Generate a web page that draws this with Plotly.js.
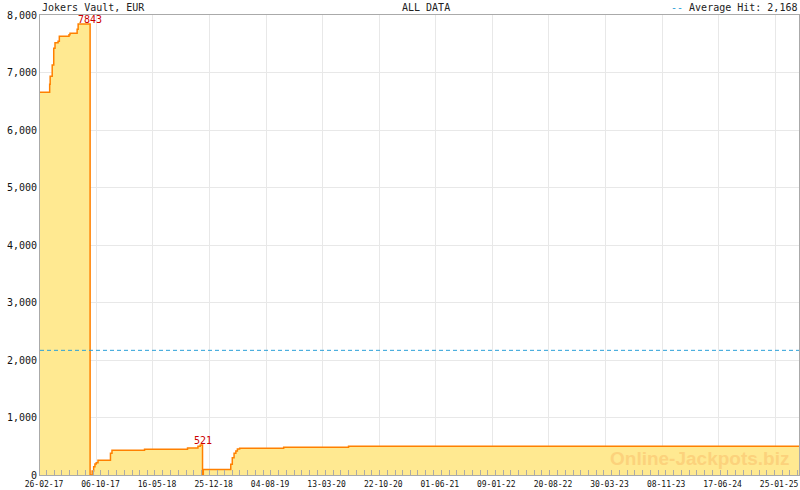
<!DOCTYPE html>
<html>
<head>
<meta charset="utf-8">
<script src="https://cdn.plot.ly/plotly-3.0.1.min.js"></script>
<style>html,body{margin:0;padding:0;background:#fff;}#chart{width:800px;height:490px;}</style>
</head>
<body>
<div id="chart"></div>
<script>
// ---- data ----
const dates = [
  '2017-02-26','2017-04-05','2017-04-07','2017-04-15','2017-04-21','2017-04-26',
  '2017-05-08','2017-05-13','2017-06-20','2017-06-24','2017-07-22','2017-07-26',
  '2017-09-11','2017-09-19','2017-09-25','2017-09-30','2017-10-05','2017-10-12',
  '2017-11-30','2017-12-06','2018-04-13','2018-09-29','2018-11-09','2018-11-18',
  '2018-11-27','2018-11-30','2019-03-18','2019-03-24','2019-03-31','2019-04-07',
  '2019-04-13','2019-04-22','2019-10-12','2020-06-23','2025-04-29'
];
const values = [
  6656,6795,6934,7130,7421,7518,
  7543,7630,7657,7682,7751,7843,
  0,70,144,191,214,256,
  377,430,447,470,499,521,
  0,95,186,301,377,417,
  452,464,482,499,499
];
const peakLabels = [
  {date:'2017-09-11', value:7843, text:'7843'},
  {date:'2018-11-27', value:521, text:'521'}
];
const averageHit = 2168;
const xStart = '2017-02-26';
const xEnd = '2025-04-29';
const tickDates = ['2017-02-26','2017-10-06','2018-05-16','2018-12-25','2019-08-04','2020-03-13',
  '2020-10-22','2021-06-01','2022-01-09','2022-08-20','2023-03-30','2023-11-08','2024-06-17','2025-01-25'];
const tickLabels = ['26-02-17','06-10-17','16-05-18','25-12-18','04-08-19','13-03-20',
  '22-10-20','01-06-21','09-01-22','20-08-22','30-03-23','08-11-23','17-06-24','25-01-25'];
const titleText = 'Jokers Vault, EUR';
const subtitleText = 'ALL DATA';
const watermark = 'Online-Jackpots.biz';

const mono = 'DejaVu Sans Mono, monospace';

const traces = [
  {
    x: dates, y: values, type: 'scatter', mode: 'lines',
    line: {shape: 'hv', color: '#FF8000', width: 1.5},
    fill: 'tozeroy', fillcolor: '#FFE991',
    hoverinfo: 'skip', showlegend: false
  },
  {
    x: [xStart, xEnd], y: [averageHit, averageHit], type: 'scatter', mode: 'lines',
    xaxis: 'x2',
    line: {color: '#2A9FD8', width: 1, dash: '4px,3px'},
    hoverinfo: 'skip', showlegend: false
  }
];

const annotations = [
  {xref:'paper', yref:'paper', x:0, y:1, xanchor:'left', yanchor:'bottom', yshift:0,
   text:titleText, showarrow:false, font:{family:mono, size:10, color:'#222'}},
  {xref:'paper', yref:'paper', x:0.5086, y:1, xanchor:'center', yanchor:'bottom', yshift:0,
   text:subtitleText, showarrow:false, font:{family:mono, size:10, color:'#222'}},
  {xref:'paper', yref:'paper', x:1, y:1, xanchor:'right', yanchor:'bottom', yshift:0,
   text:'<span style="color:#2A9FD8">--</span> Average Hit: ' + averageHit.toLocaleString('en-US'),
   showarrow:false, font:{family:mono, size:10, color:'#222'}},
  {xref:'paper', yref:'paper', x:0.99, y:0.0, xanchor:'right', yanchor:'bottom', yshift:4,
   text:'<b>' + watermark + '</b>', showarrow:false,
   font:{family:'Liberation Sans, Arial, sans-serif', size:19, color:'#FCD27C'}}
];
peakLabels.forEach(p => annotations.push({
  x:p.date, y:p.value, xref:'x', yref:'y', xanchor:'center', yanchor:'bottom', yshift:-3,
  text:p.text, showarrow:false, font:{family:mono, size:10, color:'#CC0000'}
}));

const layout = {
  width: 800, height: 490,
  margin: {l:40, r:1, t:15, b:15, pad:0},
  paper_bgcolor: '#fff', plot_bgcolor: '#fff',
  showlegend: false,
  hovermode: false,
  xaxis: {
    type:'date', range:[xStart, xEnd],
    tickmode:'array', tickvals:tickDates, ticktext:tickLabels,
    ticks:'', showgrid:true, gridcolor:'#E8E8E8', gridwidth:1,
    showline:true, linecolor:'#AAAAAA', linewidth:1, mirror:true,
    zeroline:false, ticklabelshift:4, ticklabelstandoff:1,
    tickfont:{family:mono, size:8, color:'#111'}
  },
  xaxis2: {
    type:'date', range:[xStart, xEnd], overlaying:'x', anchor:'y',
    tickmode:'linear', tick0:'2017-03-23', dtick:'M1',
    ticks:'inside', ticklen:5, tickcolor:'#AAAAAA', tickwidth:1,
    showticklabels:false, showgrid:false, showline:false, zeroline:false
  },
  yaxis: {
    range:[0, 8000], tickmode:'linear', tick0:0, dtick:1000, tickformat:',d',
    ticks:'', showgrid:true, gridcolor:'#E8E8E8', gridwidth:1,
    showline:true, linecolor:'#AAAAAA', linewidth:1, mirror:true,
    zeroline:false,
    tickfont:{family:mono, size:10, color:'#111'}
  },
  annotations: annotations
};

Plotly.newPlot('chart', traces, layout, {staticPlot:true, displayModeBar:false});
</script>
</body>
</html>
